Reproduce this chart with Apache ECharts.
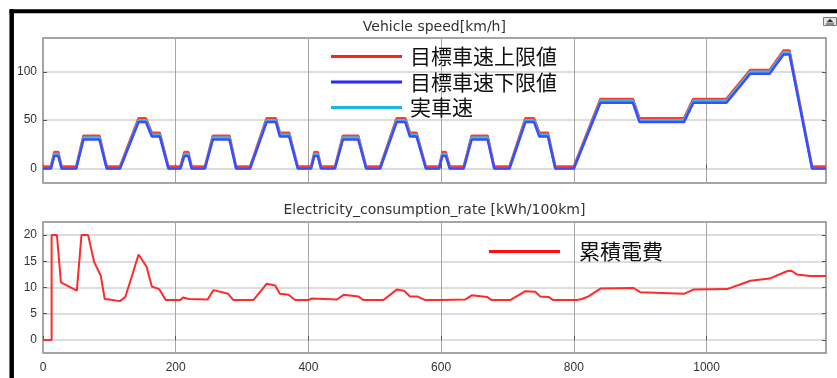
<!DOCTYPE html>
<html><head><meta charset="utf-8">
<script src="https://cdn.jsdelivr.net/npm/echarts@6/dist/echarts.min.js"></script>
<style>html,body{margin:0;padding:0;background:#fff}#c{width:837px;height:378px}</style>
</head><body><div id="c"></div>
<script>
// ---- data ----
var speedTime = [0,12,17,23,28,50,61,85,96,116,144,155,164,176,189,
  207,213,219,224,244,256,281,291,312,337,351,357,371,384,
  404,409,414,419,440,452,475,487,508,533,546,553,563,577,
  597,602,607,613,634,646,670,680,703,727,740,748,761,772,
  800,840,889,899,966,980,1030,1066,1095,1116,1125,1159,1180];
var speedActual = [0,0,15,15,0,0,32,32,0,0,50,50,35,35,0,
  0,15,15,0,0,32,32,0,0,50,50,35,35,0,
  0,15,15,0,0,32,32,0,0,50,50,35,35,0,
  0,15,15,0,0,32,32,0,0,50,50,35,35,0,
  0,70,70,50,50,70,70,100,100,120,120,0,0];
var speedUpper = [2,2,17,17,2,2,34,34,2,2,52,52,37,37,2,
  2,17,17,2,2,34,34,2,2,52,52,37,37,2,
  2,17,17,2,2,34,34,2,2,52,52,37,37,2,
  2,17,17,2,2,34,34,2,2,52,52,37,37,2,
  2,72,72,52,52,72,72,102,102,122,122,2,2];
var speedLower = [0,0,13,13,0,0,30,30,0,0,48,48,33,33,0,
  0,13,13,0,0,30,30,0,0,48,48,33,33,0,
  0,13,13,0,0,30,30,0,0,48,48,33,33,0,
  0,13,13,0,0,30,30,0,0,48,48,33,33,0,
  0,68,68,48,48,68,68,98,98,118,118,0,0];

var consTime = [0,13,13,21,27,30,51,58,68,77,87,93,100,116,124,134,144,156,164,175,185,207,211,220,248,257,279,287,317,337,350,357,370,380,400,405,443,453,475,483,513,533,544,553,564,576,600,603,636,646,669,676,704,727,742,749,762,769,805,812,822,840,890,900,966,980,1031,1066,1095,1121,1128,1136,1156,1180];
var consValue = [0,0,20,20,11,11.1,9.4,20,20,14.9,12.3,7.8,7.7,7.4,8.2,12.2,16.3,14,10.2,9.7,7.6,7.6,8.1,7.8,7.7,9.5,8.8,7.6,7.6,10.7,10.4,8.8,8.6,7.6,7.6,7.9,7.7,8.6,8.3,7.6,7.6,9.6,9.4,8.3,8.3,7.6,7.6,7.8,7.7,8.5,8.2,7.6,7.6,9.3,9.2,8.3,8.2,7.6,7.6,7.8,8.3,9.8,9.9,9.1,8.8,9.6,9.7,11.3,11.7,13.1,13.2,12.5,12.2,12.2];

var xTicks = [0,200,400,600,800,1000];
var speedTicks = [0,50,100];
var consTicks = [0,5,10,15,20];

var speedTitle = 'Vehicle speed[km/h]';
var consTitle = 'Electricity_consumption_rate [kWh/100km]';
var nameUpper = '目標車速上限値', nameLower = '目標車速下限値', nameActual = '実車速', nameCons = '累積電費';

function pairs(xs, ys){ return xs.map(function(x,i){ return [x, ys[i]]; }); }

var chart = echarts.init(document.getElementById('c'), null, {renderer:'canvas'});
var labelFont = {color:'#333', fontSize:12, fontFamily:'Liberation Sans', formatter:function(v){ return String(v); }};
function xAxisCfg(gi, showLabel){
  return {type:'value', gridIndex:gi, min:0, max:1180,
    axisLine:{show:false},
    axisTick:{show:true, inside:true, length:4, customValues:xTicks, lineStyle:{color:'#555'}},
    axisLabel:Object.assign({show:showLabel, customValues:xTicks, margin:9}, labelFont),
    splitLine:{show:true, lineStyle:{color:'#a6a6a6', width:1}}};
}
function yAxisCfg(gi, mn, mx, ticks, pos, showLabel, showSplit){
  return {type:'value', gridIndex:gi, min:mn, max:mx, position:pos,
    axisLine:{show:false},
    axisTick:{show:true, inside:true, length:4, customValues:ticks, lineStyle:{color:'#555'}},
    axisLabel:Object.assign({show:showLabel, customValues:ticks, margin:6}, labelFont),
    splitLine:{show:showSplit, lineStyle:{color:'#d2d2d2', width:1.5}}};
}
var legendText = {fontSize:21, fontFamily:'Noto Sans CJK JP', color:'#111', lineHeight:20};

chart.setOption({
  animation:false,
  backgroundColor:'#fff',
  grid:[
    {left:43, top:38, width:783, height:145, show:true, borderColor:'#888', borderWidth:1.5},
    {left:43, top:222, width:783, height:131, show:true, borderColor:'#888', borderWidth:1.5}
  ],
  xAxis:[xAxisCfg(0,false), xAxisCfg(1,true)],
  yAxis:[
    yAxisCfg(0,-15,135,speedTicks,'left',true,true),
    yAxisCfg(1,-2.5,22.5,consTicks,'left',true,true),
    yAxisCfg(0,-15,135,speedTicks,'right',false,false),
    yAxisCfg(1,-2.5,22.5,consTicks,'right',false,false)
  ],
  legend:[
    {left:331, top:46, padding:0, orient:'vertical', itemWidth:71, itemHeight:3, itemGap:4.5, icon:'rect',
     data:[nameUpper, nameLower, nameActual], textStyle:Object.assign({padding:[0,0,0,3]}, legendText), selectedMode:false},
    {left:489, top:241, padding:0, orient:'vertical', itemWidth:71, itemHeight:3, icon:'rect',
     data:[nameCons], textStyle:Object.assign({padding:[0,0,0,14]}, legendText), selectedMode:false}
  ],
  series:[
    {name:nameUpper, type:'line', xAxisIndex:0, yAxisIndex:0, showSymbol:false, data:pairs(speedTime, speedUpper),
     color:'#ff2020', lineStyle:{width:2.5, color:'#ff3a3a'}},
    {name:nameActual, type:'line', xAxisIndex:0, yAxisIndex:0, showSymbol:false, data:pairs(speedTime, speedActual),
     color:'#1cb4e8', lineStyle:{width:2.5, color:'#2ec0e0'}},
    {name:nameLower, type:'line', xAxisIndex:0, yAxisIndex:0, showSymbol:false, data:pairs(speedTime, speedLower),
     color:'#2a2aff', lineStyle:{width:2.5, color:'#3a4cff'}},
    {name:nameCons, type:'line', xAxisIndex:1, yAxisIndex:1, showSymbol:false, data:pairs(consTime, consValue),
     color:'#ff1010', lineStyle:{width:2, color:'#ff2a2a'}}
  ],
  graphic:[
    {type:'text', x:434.4, y:27, style:{text:speedTitle, textAlign:'center', textVerticalAlign:'middle', font:'14px "DejaVu Sans"', fill:'#333'}},
    {type:'text', x:434.4, y:210, style:{text:consTitle, textAlign:'center', textVerticalAlign:'middle', font:'14px "DejaVu Sans"', fill:'#333'}},
    {type:'line', shape:{x1:9.5, y1:11.3, x2:837, y2:11.3}, style:{stroke:'#000', lineWidth:4}},
    {type:'line', shape:{x1:11.7, y1:9.3, x2:11.7, y2:378}, style:{stroke:'#000', lineWidth:4.5}},
    {type:'rect', shape:{x:823.5, y:17.5, width:13, height:8}, style:{stroke:'#777', fill:'#e6e6e6', lineWidth:1}},
    {type:'polygon', shape:{points:[[830,18.8],[826.5,22.3],[833.5,22.3]]}, style:{fill:'#333'}},
    {type:'line', shape:{x1:826, y1:24, x2:834, y2:24}, style:{stroke:'#333', lineWidth:1}}
  ]
});
</script></body></html>
